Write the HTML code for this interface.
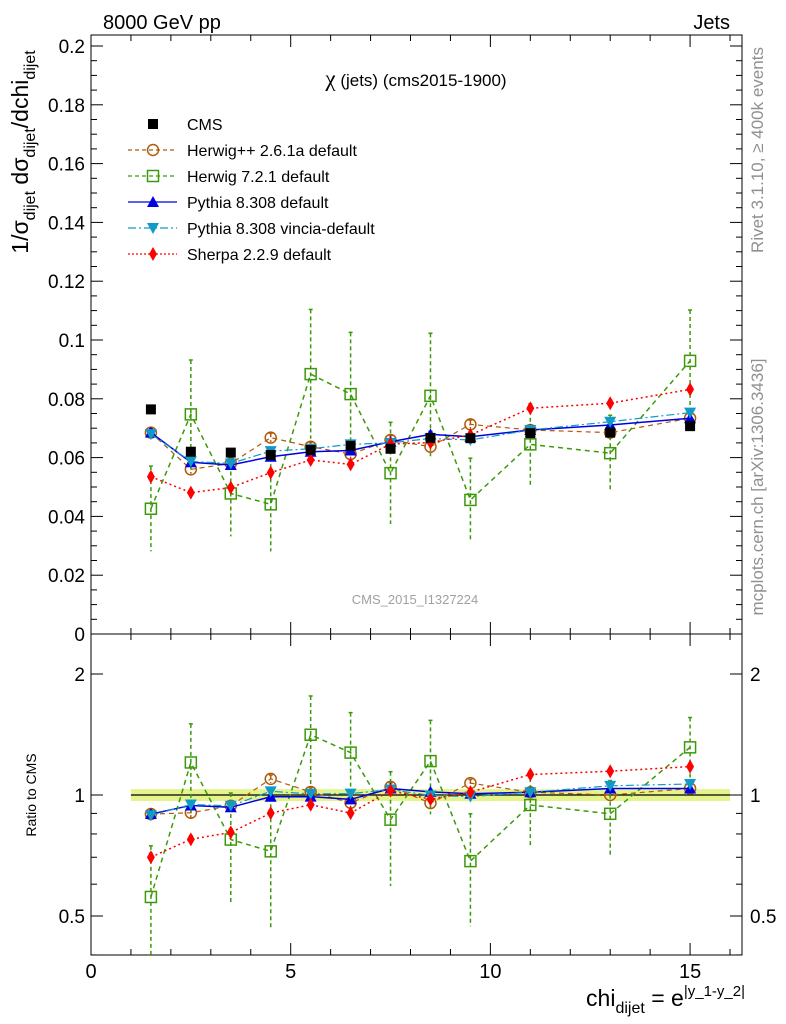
<!DOCTYPE html>
<html><head><meta charset="utf-8"><style>
html,body{margin:0;padding:0;background:#fff;}
svg{display:block;font-family:"Liberation Sans",sans-serif;}
</style></head><body>
<svg id="chart" width="786" height="1024" viewBox="0 0 786 1024" xmlns="http://www.w3.org/2000/svg">
<text x="103" y="29" font-size="20">8000 GeV pp</text>
<text x="730" y="29" font-size="20" text-anchor="end">Jets</text>
<text x="416" y="86" font-size="17" text-anchor="middle"><tspan font-family="Liberation Serif" font-size="23">χ</tspan> (jets) (cms2015-1900)</text>
<text x="415" y="604" font-size="13" fill="#a0a0a0" text-anchor="middle">CMS_2015_I1327224</text>
<text transform="translate(763,150) rotate(-90)" font-size="17" fill="#909090" text-anchor="middle">Rivet 3.1.10, ≥ 400k events</text>
<text transform="translate(763,487) rotate(-90)" font-size="17" fill="#909090" text-anchor="middle">mcplots.cern.ch [arXiv:1306.3436]</text>
<text transform="translate(28,152) rotate(-90)" font-size="23" text-anchor="middle">1/σ<tspan font-size="16" dy="7">dijet</tspan><tspan dy="-7"> dσ</tspan><tspan font-size="16" dy="7">dijet</tspan><tspan dy="-7">/dchi</tspan><tspan font-size="16" dy="7">dijet</tspan></text>
<text transform="translate(36,795) rotate(-90)" font-size="14" text-anchor="middle">Ratio to CMS</text>
<text x="745" y="1006" font-size="23" text-anchor="end">chi<tspan font-size="16" dy="7">dijet</tspan><tspan dy="-7"> = e</tspan><tspan font-size="15" dy="-10">|y_1-y_2|</tspan></text>
<g id="g"></g>
</svg>
<script>
const xs=[1.5,2.5,3.5,4.5,5.5,6.5,7.5,8.5,9.5,11,13,15];
const xlo=[1,2,3,4,5,6,7,8,9,10,12,14];
const xhi=[2,3,4,5,6,7,8,9,10,12,14,16];
const cms=[0.0764,0.062,0.0617,0.0609,0.0626,0.064,0.063,0.0667,0.0666,0.0683,0.0685,0.0707];
const cmsErr=[0.0026,0.0021,0.0021,0.0021,0.0021,0.0022,0.0021,0.0023,0.0023,0.0023,0.0023,0.0024];
const herwigpp=[0.0685,0.056,0.058,0.0668,0.0637,0.0612,0.066,0.0637,0.0713,0.0694,0.0685,0.0734];
const herwigppErr=[0.0015,0.0015,0.0015,0.0015,0.0015,0.0015,0.0015,0.0015,0.0015,0.0012,0.0012,0.0012];
const herwig7=[0.0426,0.0747,0.0478,0.0441,0.0884,0.0816,0.0547,0.081,0.0456,0.0645,0.0615,0.0929];
const herwig7Err=[0.0145,0.0185,0.0146,0.016,0.022,0.021,0.0173,0.0213,0.0142,0.0138,0.0129,0.0173];
const pythia=[0.0685,0.0584,0.0575,0.0603,0.062,0.0624,0.0654,0.0679,0.0671,0.0694,0.0711,0.0734];
const vincia=[0.068,0.0587,0.058,0.0622,0.063,0.0645,0.065,0.0665,0.066,0.0694,0.0722,0.0753];
const sherpa=[0.0535,0.0481,0.0498,0.0549,0.0592,0.0577,0.0646,0.0651,0.0677,0.0768,0.0785,0.0832];
const smallErr=[0.0012,0.001,0.001,0.001,0.001,0.001,0.001,0.001,0.001,0.001,0.001,0.001];

const NS="http://www.w3.org/2000/svg";
const G=document.getElementById('g');
const L=91,R=742,T1=35,B1=634,B2=955;
const X=v=>L+v*(R-L)/16.3;
const Y=v=>B1-v*2940;
const RY=r=>795-Math.log2(r)*121;
function mk(tag,at,parent){const e=document.createElementNS(NS,tag);for(const k in at)e.setAttribute(k,at[k]);(parent||G).appendChild(e);return e;}
let f1=mk('rect',{x:L,y:T1,width:R-L,height:B1-T1,fill:'none',stroke:'#000','stroke-width':1});


let f2=mk('rect',{x:L,y:B1,width:R-L,height:B2-B1,fill:'none',stroke:'#000','stroke-width':1});


for(let i=0;i<=16;i++){const x=X(i),len=i%5==0?12:6;
 for(const [yb,dir] of [[B1,-1],[T1,1],[B2,-1]]){mk('line',{x1:x,x2:x,y1:yb,y2:yb+dir*len,stroke:'#000'});}
 mk('line',{x1:x,x2:x,y1:B1,y2:B1+len,stroke:'#000'});
 if(i%5==0){const t=mk('text',{x:x,y:978,'font-size':20,'text-anchor':'middle'});t.textContent=i;
 
 }}
for(let k=0;k<=40;k++){const v=k*0.005,y=Y(v);if(y<T1-0.5)break;const len=k%4==0?12:6;
 mk('line',{x1:L,x2:L+len,y1:y,y2:y,stroke:'#000'});mk('line',{x1:R,x2:R-len,y1:y,y2:y,stroke:'#000'});
 if(k%4==0){const t=mk('text',{x:L-6,y:y+7,'font-size':19,'text-anchor':'end'});t.textContent=k==0?'0':(v).toFixed(2).replace(/0$/,'');
 
 }}
[0.4,0.5,0.6,0.7,0.8,0.9,1,2].forEach(r=>{const y=RY(r);const maj=(r==0.5||r==1||r==2);const len=maj?12:6;
 mk('line',{x1:L,x2:L+len,y1:y,y2:y,stroke:'#000'});mk('line',{x1:R,x2:R-len,y1:y,y2:y,stroke:'#000'});
 if(maj){for(const [xx,a] of [[L-6,'end'],[R+8,'start']]){const t=mk('text',{x:xx,y:y+7,'font-size':19,'text-anchor':a});t.textContent=r;
 
 }}});
const bp=xs.map((_,i)=>`${X(xlo[i])},${RY(1+cmsErr[i]/cms[i])} ${X(xhi[i])},${RY(1+cmsErr[i]/cms[i])}`).join(' ')+' '+xs.map((_,i)=>`${X(xhi[i])},${RY(1-cmsErr[i]/cms[i])} ${X(xlo[i])},${RY(1-cmsErr[i]/cms[i])}`).reverse().join(' ');
let band=mk('polygon',{points:bp,fill:'#e4f38c'});


mk('line',{x1:X(1),x2:X(16),y1:RY(1),y2:RY(1),stroke:'#000','stroke-width':1.2});

function marker(type,x,y,c,p){
 if(type=='sq')return mk('rect',{x:x-5,y:y-5,width:10,height:10,fill:'#000'},p);
 if(type=='circ')return mk('circle',{cx:x,cy:y,r:5.5,fill:'none',stroke:c,'stroke-width':1.5},p);
 if(type=='osq')return mk('rect',{x:x-5.5,y:y-5.5,width:11,height:11,fill:'none',stroke:c,'stroke-width':1.5},p);
 if(type=='up')return mk('polygon',{points:`${x},${y-6} ${x-6},${y+5} ${x+6},${y+5}`,fill:c},p);
 if(type=='dn')return mk('polygon',{points:`${x},${y+6} ${x-6},${y-5} ${x+6},${y-5}`,fill:c},p);
 if(type=='dia')return mk('polygon',{points:`${x},${y-7} ${x-4},${y} ${x},${y+7} ${x+4},${y}`,fill:c},p);}
const series=[
 ['herwigpp-series',herwigpp,herwigppErr,'#b05a0a','circ','5,4',1.2],
 ['herwig7-series',herwig7,herwig7Err,'#3c9a0a','osq','5,4',1.5],
 ['pythia-series',pythia,smallErr,'#0000e0','up','',1.5],
 ['vincia-series',vincia,smallErr,'#109ac8','dn','8,3,2,3',1.2],
 ['sherpa-series',sherpa,smallErr,'#ff0000','dia','2,3',1.5]];
function drawSeries(name,vals,errs,c,m,dash,w,ratio){
 const g=mk('g',{});
 
 
 const fy=ratio?(v,i)=>RY(v/cms[i]):(v)=>Y(v);
 mk('polyline',{points:vals.map((v,i)=>`${X(xs[i])},${fy(v,i)}`).join(' '),fill:'none',stroke:c,'stroke-width':w,'stroke-dasharray':dash},g);
 vals.forEach((v,i)=>{const x=X(xs[i]);const y1=fy(v+errs[i],i),y2=fy(Math.max(v-errs[i],0.0001),i);
  mk('line',{x1:x,x2:x,y1:y1,y2:Math.min(y2,ratio?B2:B1),stroke:c,'stroke-width':1.5,'stroke-dasharray':dash?'4,3':''},g);
  mk('line',{x1:x-2,x2:x+2,y1:y1,y2:y1,stroke:c,'stroke-width':1.5},g);
  marker(m,x,fy(v,i),c,g);});}
series.forEach(s=>drawSeries(...s,false));
series.forEach(s=>drawSeries(...s,true));
const cg=mk('g',{});


cms.forEach((v,i)=>marker('sq',X(xs[i]),Y(v),'#000',cg));
const leg=[['CMS','#000','sq',''],['Herwig++ 2.6.1a default','#b05a0a','circ','4,3'],['Herwig 7.2.1 default','#3c9a0a','osq','4,3'],['Pythia 8.308 default','#0000e0','up',''],['Pythia 8.308 vincia-default','#109ac8','dn','8,3,2,3'],['Sherpa 2.2.9 default','#ff0000','dia','2,2']];
leg.forEach((l,i)=>{const y=124+i*26;const g=mk('g',{});
 
 
 if(i>0)mk('line',{x1:128,x2:177,y1:y,y2:y,stroke:l[1],'stroke-width':1.2,'stroke-dasharray':l[3]},g);
 if(i==0)mk('rect',{x:148,y:y-5,width:10,height:10,fill:'#000'},g);else marker(l[2],153,y,l[1],g);
 const t=mk('text',{x:187,y:y+6,'font-size':16},g);t.textContent=l[0];});
</script>
</body></html>
